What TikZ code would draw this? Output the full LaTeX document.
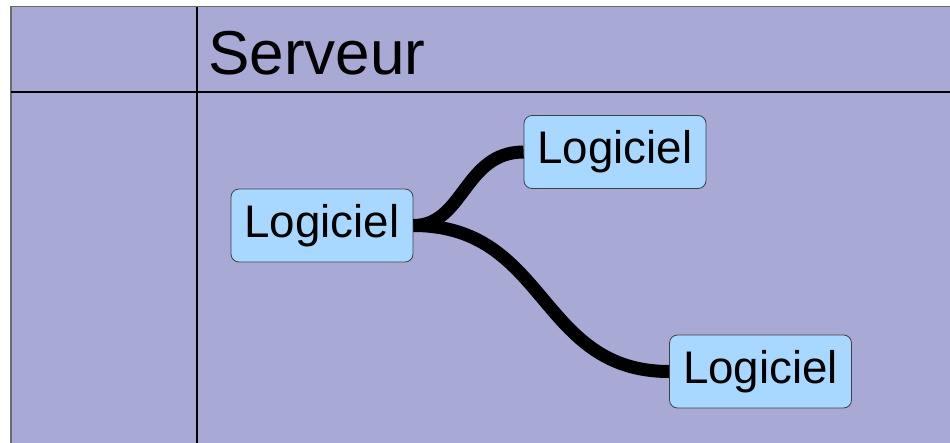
\documentclass[tikz,border=0pt]{standalone}
\usepackage{fontspec}
\setmainfont{Liberation Sans}
\definecolor{bgpurple}{HTML}{A9A9D6}
\definecolor{boxblue}{HTML}{A8D8FF}
\definecolor{edgegray}{HTML}{6B6B6B}
\begin{document}
\begin{tikzpicture}[x=1pt,y=-1pt,
  logbox/.style={draw=black!75,line width=0.8pt,fill=boxblue,rounded corners=8pt,
    minimum width=182pt,minimum height=73pt,inner sep=0pt,
    font=\fontsize{45.7}{50}\selectfont},
  link/.style={line width=13pt,draw=black}]
\useasboundingbox (0,0) rectangle (950,442);
\fill[white] (0,0) rectangle (950,442);
\fill[bgpurple] (11,6.5) rectangle (951,443);
\draw[edgegray,line width=1.5pt] (11,443) -- (11,6.5) -- (951,6.5);
\draw[black,line width=1.2pt] (11,92) -- (951,92);
\draw[black,line width=1.2pt] (197,6.5) -- (197,443);
\node[anchor=base west,inner sep=0pt,font=\fontsize{62}{70}\selectfont] (title) at (208,74) {Serveur};
\node[logbox] (A) at (322,225.5) {Logiciel};
\node[logbox] (B) at (615,152) {Logiciel};
\node[logbox] (C) at (760.5,371.5) {Logiciel};
\draw[link] (A.east) .. controls (464,225.5) and (464,152) .. (B.west);
\draw[link] (A.east) .. controls (548,225.5) and (538,371.5) .. (C.west);
\end{tikzpicture}
\end{document}
